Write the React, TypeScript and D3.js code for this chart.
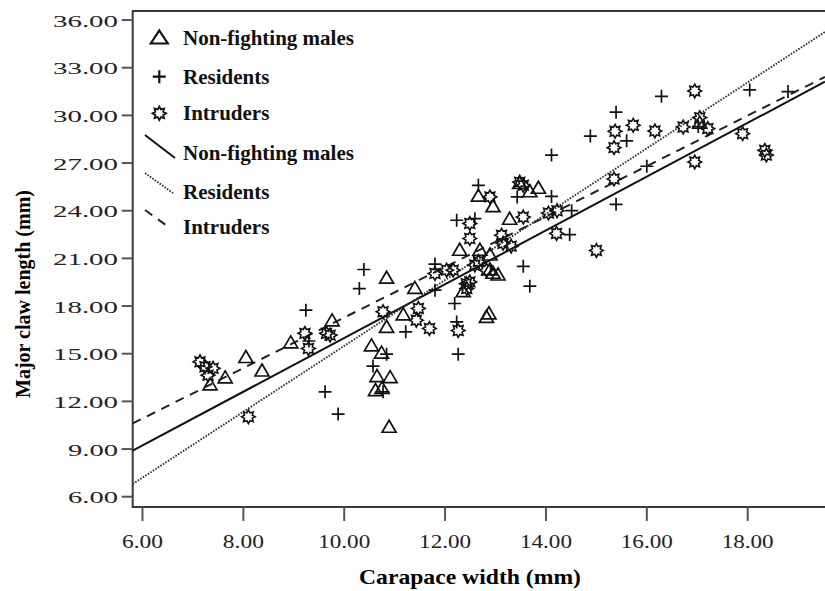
import React, { useEffect, useRef } from 'react'
import * as d3 from 'd3'

// carapace width (mm), major claw length (mm)
const nonFighting: number[][] = [
    [7.34, 13.03], [7.64, 13.47], [8.05, 14.75], [8.37, 13.90], [8.94, 15.67], [9.76, 17.05],
    [10.84, 19.74], [11.40, 19.10], [10.84, 16.65], [11.17, 17.43], [10.54, 15.48], [10.74, 15.02],
    [10.65, 13.55], [10.91, 13.48], [10.62, 12.67], [10.75, 12.80], [10.89, 10.36],
    [12.29, 21.50], [12.69, 21.50], [12.89, 21.20], [12.82, 17.28], [12.87, 17.50],
    [12.66, 24.90], [12.95, 24.24], [13.48, 25.70], [13.68, 25.18], [13.85, 25.40], [13.28, 23.45],
    [12.89, 20.26], [13.05, 19.94], [12.95, 20.05], [12.36, 18.90], [17.05, 29.50]
]

const residents: number[][] = [
    [9.24, 17.74], [9.62, 12.60], [9.88, 11.20], [10.39, 20.30], [10.30, 19.10], [11.80, 20.64],
    [11.80, 19.00], [11.22, 16.38], [12.19, 18.16], [12.23, 17.00], [12.26, 14.97], [10.84, 14.97],
    [10.57, 14.22], [10.77, 12.60], [9.30, 15.80],
    [12.66, 25.60], [13.43, 24.87], [14.11, 24.90], [12.23, 23.40], [12.59, 23.50], [13.55, 20.50],
    [13.68, 19.25], [14.11, 27.50], [14.88, 28.70], [15.39, 30.20], [16.29, 31.20], [15.60, 28.40],
    [16.00, 26.80], [15.39, 24.40], [14.51, 24.00], [14.47, 22.50], [18.04, 31.60], [18.80, 31.50],
    [17.02, 29.30]
]

const intruders: number[][] = [
    [7.14, 14.49], [7.24, 14.18], [7.40, 14.08], [7.30, 13.65], [8.10, 11.03], [9.22, 16.28],
    [9.29, 15.33], [9.72, 16.17], [9.65, 16.28],
    [10.77, 17.64], [11.47, 17.85], [11.43, 17.11], [11.69, 16.59], [11.80, 20.05], [12.03, 20.26],
    [12.16, 20.26], [12.42, 19.40], [12.49, 19.52], [12.26, 16.46], [12.66, 20.80], [12.82, 20.26],
    [12.59, 20.58], [12.43, 19.10],
    [12.89, 24.87], [12.49, 23.20], [12.49, 22.25], [13.55, 23.60], [13.48, 25.80], [13.55, 25.60],
    [13.12, 22.46], [13.31, 21.77], [13.15, 21.95], [14.05, 23.85], [14.22, 24.00], [14.21, 22.57],
    [16.95, 31.54], [15.37, 29.00], [15.73, 29.38], [16.16, 29.02], [16.72, 29.27], [17.05, 29.86],
    [17.21, 29.17], [15.35, 27.97], [17.90, 28.85], [16.95, 27.07], [18.34, 27.80], [18.37, 27.50],
    [15.35, 26.00], [15.00, 21.50]
]

// fitted lines: y = slope * x + intercept
const groups = ['Non-fighting males', 'Residents', 'Intruders']
const slopes = [1.692, 2.073, 1.589]
const intercepts = [-0.93, -5.24, 1.385]

const xTicks = [6, 8, 10, 12, 14, 16, 18]
const yTicks = [6, 9, 12, 15, 18, 21, 24, 27, 30, 33, 36]

const serif = "'Liberation Serif', 'Times New Roman', serif"

export default function App() {
    const ref = useRef<SVGSVGElement>(null)

    let width = 825, height = 591
    let left = 132.7, right = 825, top = 11, bottom = 507

    function starPath(cx: number, cy: number) {
        let pts: string[] = []
        for (let i = 0; i < 16; i++) {
            let r = i % 2 == 0 ? 6.8 : 4.2
            let a = (Math.PI / 8) * i
            pts.push((cx + r * Math.sin(a)).toFixed(2) + ',' + (cy - r * Math.cos(a)).toFixed(2))
        }
        return 'M' + pts.join('L') + 'Z'
    }

    function triPath(cx: number, cy: number, w: number, h: number) {
        return 'M' + cx + ',' + (cy - h * 0.6) + 'L' + (cx + w / 2) + ',' + (cy + h * 0.4) + 'L' + (cx - w / 2) + ',' + (cy + h * 0.4) + 'Z'
    }

    function plusPath(cx: number, cy: number, s: number) {
        return 'M' + (cx - s) + ',' + cy + 'H' + (cx + s) + 'M' + cx + ',' + (cy - s) + 'V' + (cy + s)
    }

    function draw() {
        var svg = d3.select(ref.current)
        svg.selectAll('*').remove()

        var x = d3.scaleLinear().domain([5.806, 19.533]).range([left, right])
        var y = d3.scaleLinear().domain([5.352, 36.57]).range([bottom, top])

        // frame
        svg.append('path')
            .attr('d', 'M' + right + ',' + top + 'H' + left + 'V' + bottom + 'H' + right)
            .attr('fill', 'none')
            .attr('stroke', '#3a3a3a')
            .attr('stroke-width', 2)

        // y ticks
        var gy = svg.append('g')
        gy.selectAll('line')
            .data(yTicks)
            .enter()
            .append('line')
            .attr('x1', left - 11)
            .attr('x2', left)
            .attr('y1', (d) => y(d))
            .attr('y2', (d) => y(d))
            .attr('stroke', '#555')
            .attr('stroke-width', 2)
        gy.selectAll('text')
            .data(yTicks)
            .enter()
            .append('text')
            .attr('x', 118)
            .attr('y', (d) => y(d) + 6.5)
            .attr('text-anchor', 'end')
            .attr('textLength', (d) => d < 10 ? 50 : 65)
            .attr('lengthAdjust', 'spacingAndGlyphs')
            .style('font-family', serif)
            .style('font-size', '17.5px')
            .attr('fill', '#222')
            .text((d) => d.toFixed(2))

        // x ticks
        var gx = svg.append('g')
        gx.selectAll('line')
            .data(xTicks)
            .enter()
            .append('line')
            .attr('x1', (d) => x(d))
            .attr('x2', (d) => x(d))
            .attr('y1', bottom)
            .attr('y2', bottom + 14)
            .attr('stroke', '#555')
            .attr('stroke-width', 2)
        gx.selectAll('text')
            .data(xTicks)
            .enter()
            .append('text')
            .attr('x', (d) => x(d))
            .attr('y', 548)
            .attr('text-anchor', 'middle')
            .attr('textLength', (d) => d < 10 ? 41 : 52)
            .attr('lengthAdjust', 'spacingAndGlyphs')
            .style('font-family', serif)
            .style('font-size', '19px')
            .attr('fill', '#222')
            .text((d) => d.toFixed(2))

        // axis titles
        svg.append('text')
            .attr('x', 470)
            .attr('y', 584)
            .attr('text-anchor', 'middle')
            .attr('textLength', 222)
            .attr('lengthAdjust', 'spacingAndGlyphs')
            .style('font-family', serif)
            .style('font-size', '21px')
            .style('font-weight', 'bold')
            .text('Carapace width (mm)')

        svg.append('text')
            .attr('transform', 'translate(30, 294) rotate(-90)')
            .attr('text-anchor', 'middle')
            .attr('textLength', 208)
            .attr('lengthAdjust', 'spacingAndGlyphs')
            .style('font-family', serif)
            .style('font-size', '21px')
            .style('font-weight', 'bold')
            .text('Major claw length (mm)')

        // fitted lines
        let dashes = ['none', '1.6,1.4', '9,7']
        let widths = [2, 1.9, 2]
        let lineColors = ['#111', '#333', '#222']
        var [x0, x1] = x.domain()
        svg.append('g')
            .selectAll('line')
            .data(groups)
            .enter()
            .append('line')
            .attr('x1', x(x0))
            .attr('x2', x(x1))
            .attr('y1', (d, i) => y(slopes[i] * x0 + intercepts[i]))
            .attr('y2', (d, i) => y(slopes[i] * x1 + intercepts[i]))
            .attr('stroke', (d, i) => lineColors[i])
            .attr('stroke-width', (d, i) => widths[i])
            .attr('stroke-dasharray', (d, i) => dashes[i])

        // points
        svg.append('g')
            .selectAll('path')
            .data(nonFighting)
            .enter()
            .append('path')
            .attr('d', (d) => triPath(x(d[0]), y(d[1]), 14, 12))
            .attr('fill', 'none')
            .attr('stroke', '#111')
            .attr('stroke-width', 1.7)

        svg.append('g')
            .selectAll('path')
            .data(residents)
            .enter()
            .append('path')
            .attr('d', (d) => plusPath(x(d[0]), y(d[1]), 6.5))
            .attr('fill', 'none')
            .attr('stroke', '#111')
            .attr('stroke-width', 1.7)

        svg.append('g')
            .selectAll('path')
            .data(intruders)
            .enter()
            .append('path')
            .attr('d', (d) => starPath(x(d[0]), y(d[1])))
            .attr('fill', 'none')
            .attr('stroke', '#111')
            .attr('stroke-width', 1.6)

        // legend
        var legend = svg.append('g')
        let sx = 159.3
        legend.append('path').attr('d', triPath(sx, 38.3, 17, 13)).attr('fill', 'none').attr('stroke', '#111').attr('stroke-width', 2.2)
        legend.append('path').attr('d', plusPath(sx, 76.7, 6.5)).attr('stroke', '#111').attr('stroke-width', 2.2)
        legend.append('path').attr('d', starPath(sx, 113.3)).attr('fill', 'none').attr('stroke', '#111').attr('stroke-width', 1.8)
        let segY = [135, 173, 210]
        let segH = [23, 20, 18]
        let segW = [30, 28, 25]
        groups.forEach((g, i) => {
            legend.append('line')
                .attr('x1', 145).attr('y1', segY[i])
                .attr('x2', 145 + segW[i]).attr('y2', segY[i] + segH[i])
                .attr('stroke', lineColors[i])
                .attr('stroke-width', widths[i])
                .attr('stroke-dasharray', dashes[i])
        })
        let labels = groups.concat(groups)
        let baselines = [45, 84, 119.5, 159.5, 198.5, 234]
        legend.selectAll('text')
            .data(labels)
            .enter()
            .append('text')
            .attr('x', 183)
            .attr('y', (d, i) => baselines[i])
            .style('font-family', serif)
            .style('font-size', '21px')
            .style('font-weight', 'bold')
            .attr('fill', '#111')
            .text((d) => d)
    }

    useEffect(() => {
        draw()
    }, [])

    return (
        <svg ref={ref} width={width} height={height}
            style={{ position: 'absolute', left: 0, top: 0, background: '#fff' }} />
    )
}
